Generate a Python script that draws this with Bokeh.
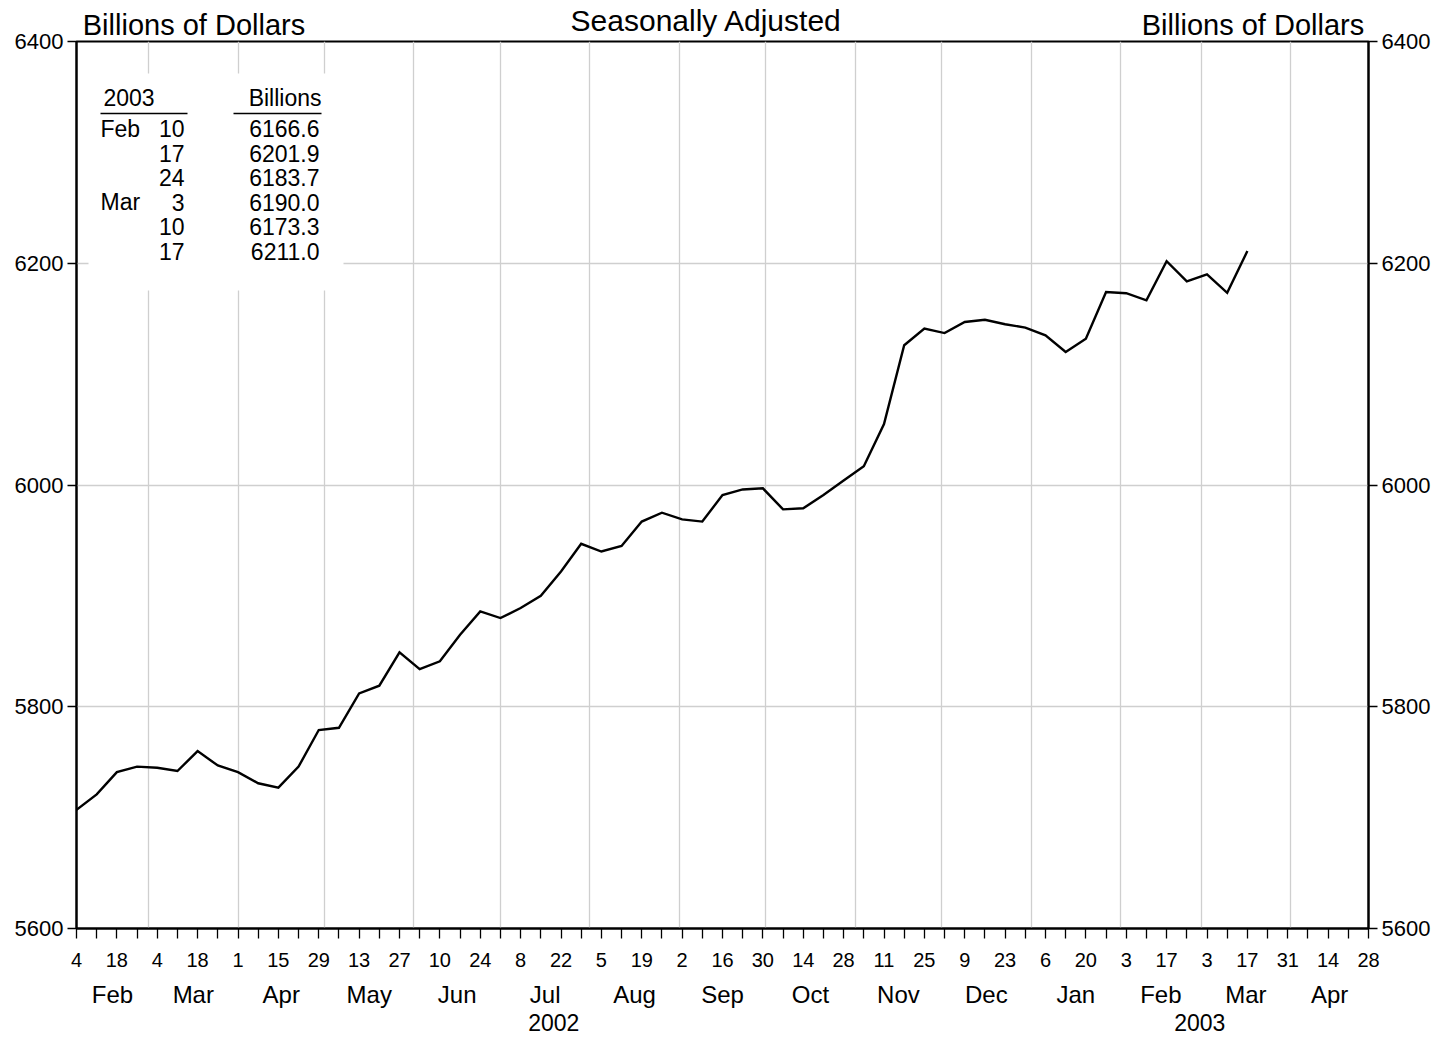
from datetime import date, timedelta
from bokeh.plotting import figure
from bokeh.models import Range1d, LinearAxis, FixedTicker, Grid
from bokeh.core.properties import value
from bokeh.embed import file_html
from bokeh.resources import INLINE

# ---------------- data ----------------
START = date(2002, 2, 4)          # first weekly observation
AXIS_END = date(2003, 4, 28)      # right end of the time axis
week_values = [5707, 5721, 5741, 5746, 5745, 5742, 5760, 5747, 5741, 5731,
               5727, 5746, 5779, 5781, 5812, 5819, 5849, 5834, 5841, 5865,
               5886, 5880, 5889, 5900, 5922, 5947, 5940, 5945, 5967, 5975,
               5969, 5967, 5991, 5996, 5997, 5978, 5979, 5991, 6004, 6017,
               6055, 6126, 6141, 6137, 6147, 6149, 6145, 6142, 6135, 6120,
               6132, 6174, 6173, 6166.6, 6201.9, 6183.7, 6190.0, 6173.3, 6211.0]
table_year = "2003"
table_unit = "Billions"
table_months = ["Feb", "", "", "Mar", "", ""]
table_days = ["10", "17", "24", "3", "10", "17"]
table_values = ["6166.6", "6201.9", "6183.7", "6190.0", "6173.3", "6211.0"]
y_ticks = [5600, 5800, 6000, 6200, 6400]
month_abbr = ["Jan", "Feb", "Mar", "Apr", "May", "Jun", "Jul", "Aug", "Sep", "Oct", "Nov", "Dec"]
title_text = "Seasonally Adjusted"
unit_text = "Billions of Dollars"

FONT = "Liberation Sans"
FW, FH = 1292, 887
Y0, Y1 = 5600, 6400


def day(dt):
    return (dt - START).days


x_end = day(AXIS_END)
xs = [7 * i for i in range(len(week_values))]
ppd = FW / x_end


def fx(px):          # pixel offset from the frame's left edge -> data x
    return px / ppd


def fy(px):          # pixel offset from the frame's top edge -> data y
    return Y1 - px * (Y1 - Y0) / FH


# month boundaries / centres
month_starts = []
month_mid = {}
year_mid = {}
y, m = START.year, START.month
while True:
    ms = date(y, m, 1)
    ny, nm = (y + 1, 1) if m == 12 else (y, m + 1)
    me = date(ny, nm, 1)
    a, b = max(day(ms), 0), min(day(me), x_end)
    if a >= x_end:
        break
    if day(ms) > 0:
        month_starts.append(day(ms))
    month_mid[(a + b) / 2] = month_abbr[m - 1]
    y, m = ny, nm
for yr in (2002, 2003):
    a = max(day(date(yr, 1, 1)), 0)
    b = min(day(date(yr + 1, 1, 1)), x_end)
    year_mid[(a + b) / 2] = str(yr)

week_ticks = list(range(0, x_end + 1, 7))
day_labels = {t: (str((START + timedelta(days=t)).day) if (t // 7) % 2 == 0 else "") for t in week_ticks}

p = figure(frame_width=FW, frame_height=FH, output_backend="svg", toolbar_location=None,
           x_range=Range1d(0, x_end), y_range=Range1d(Y0, Y1),
           x_axis_location=None, y_axis_location=None,
           min_border_left=76, min_border_top=41, min_border_right=4, min_border_bottom=0)
p.grid.visible = False
p.outline_line_color = "black"
p.outline_line_width = 2
p.background_fill_color = "white"
p.border_fill_color = "white"

p.add_layout(Grid(dimension=0, ticker=FixedTicker(ticks=month_starts), grid_line_color="#cfcfcf", grid_line_width=1.3))
p.add_layout(Grid(dimension=1, ticker=FixedTicker(ticks=y_ticks), grid_line_color="#cfcfcf", grid_line_width=1.3))


def yaxis():
    return LinearAxis(ticker=FixedTicker(ticks=y_ticks), major_tick_out=9, major_tick_in=0,
                      minor_tick_out=0, minor_tick_in=0, major_tick_line_width=1.3,
                      axis_line_color="black", axis_line_width=2,
                      major_label_text_font=FONT, major_label_text_font_size="22px",
                      major_label_text_color="black", major_label_standoff=4)


p.add_layout(yaxis(), "left")
p.add_layout(yaxis(), "right")


def text_axis(ticks, labels, size, standoff):
    return LinearAxis(ticker=FixedTicker(ticks=ticks), major_label_overrides=labels,
                      major_tick_out=0, major_tick_in=0, minor_tick_out=0, minor_tick_in=0,
                      axis_line_color=None, major_tick_line_color=None,
                      major_label_text_font=FONT, major_label_text_font_size=size,
                      major_label_text_color="black", major_label_standoff=standoff)


xday = LinearAxis(ticker=FixedTicker(ticks=week_ticks), major_label_overrides=day_labels,
                  major_tick_out=10, major_tick_in=0, minor_tick_out=0, minor_tick_in=0,
                  major_tick_line_width=1.3, axis_line_color="black", axis_line_width=2,
                  major_label_text_font=FONT, major_label_text_font_size="20px",
                  major_label_text_color="black", major_label_standoff=14)
p.add_layout(xday, "below")
p.add_layout(text_axis(list(month_mid.keys()), month_mid, "24px", 11), "below")
p.add_layout(text_axis(list(year_mid.keys()), year_mid, "23px", 3), "below")
# thin blank strip under the year labels (keeps them off the canvas edge)
p.add_layout(text_axis([0], {0: " "}, "1px", 2), "below")

# unit titles and the heading, above the frame
unit_pos = {fx(117.5): unit_text, fx(1176.5): unit_text}
p.add_layout(text_axis(list(unit_pos.keys()), unit_pos, "29px", 1), "above")
title_pos = {fx(630): title_text}
p.add_layout(text_axis(list(title_pos.keys()), title_pos, "30px", -31), "above")

# inset table background (drawn before the other glyphs)
p.quad(left=[fx(12)], right=[fx(267)], top=[fy(32)], bottom=[fy(249)],
       fill_color="white", fill_alpha=1.0, line_color=None)

p.line(xs, week_values, line_color="black", line_width=2.4, line_join="miter")

# inset table
p.segment(x0=[fx(24), fx(157)], y0=[fy(72), fy(72)], x1=[fx(111), fx(245)], y1=[fy(72), fy(72)],
          line_color="black", line_width=1.3)
TS = value("23px")
TF = value(FONT)
rows_y = [fy(87 + 24.6 * i) for i in range(len(table_values))]
head_y = fy(56)
p.text(x=[fx(27)], y=[head_y], text=[table_year], text_font=TF, text_font_size=TS,
       text_color="black", text_align="left", text_baseline="alphabetic")
p.text(x=[fx(245)], y=[head_y], text=[table_unit], text_font=TF, text_font_size=TS,
       text_color="black", text_align="right", text_baseline="alphabetic")
p.text(x=[fx(24)] * len(table_months), y=rows_y, text=table_months, text_font=TF, text_font_size=TS,
       text_color="black", text_align="left", text_baseline="alphabetic")
p.text(x=[fx(108)] * len(table_days), y=rows_y, text=table_days, text_font=TF, text_font_size=TS,
       text_color="black", text_align="right", text_baseline="alphabetic")
p.text(x=[fx(243)] * len(table_values), y=rows_y, text=table_values, text_font=TF, text_font_size=TS,
       text_color="black", text_align="right", text_baseline="alphabetic")

open("out.html", "w").write(file_html(p, INLINE))
